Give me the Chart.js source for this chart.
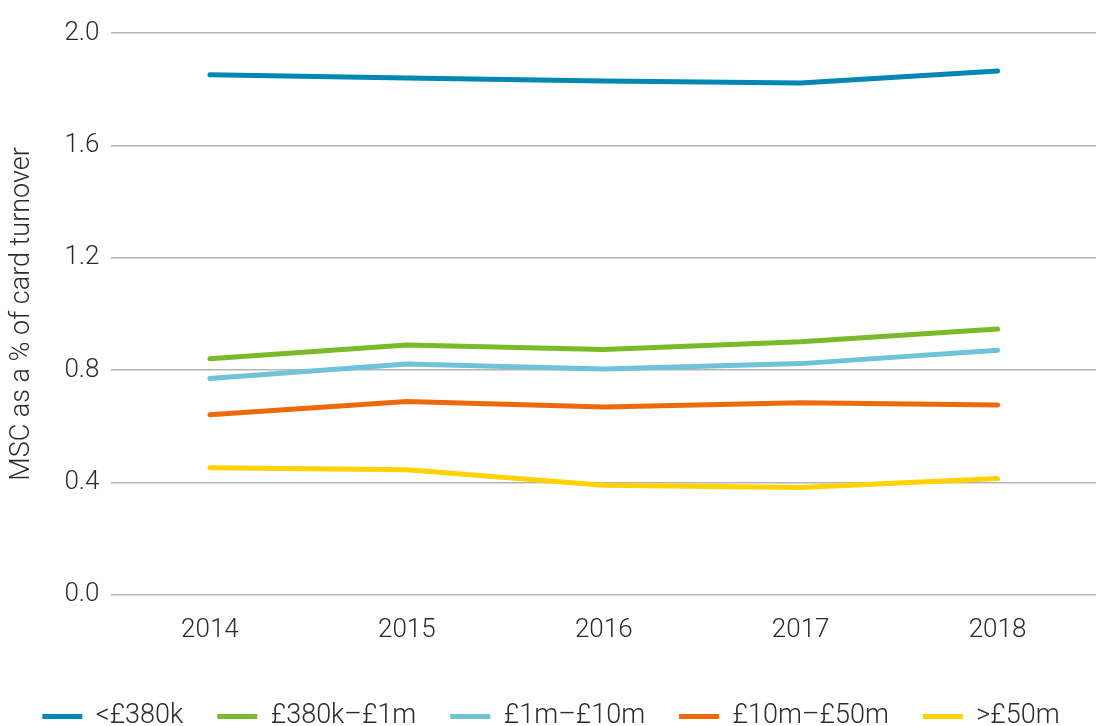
<!DOCTYPE html>
<html>
<head>
<meta charset="utf-8">
<script src="https://cdn.jsdelivr.net/npm/chart.js@4"></script>
<style>
  html, body { margin: 0; padding: 0; background: #fff; }
  #wrap { width: 1096px; height: 726px; }
</style>
</head>
<body>
<div id="wrap"><canvas id="msc" width="1096" height="726"></canvas></div>
<script>
// -----Data
var years = ['2014', '2015', '2016', '2017', '2018']
var under380k = [1.851, 1.840, 1.829, 1.822, 1.865]
var from380kTo1m = [0.840, 0.889, 0.873, 0.901, 0.946]
var from1mTo10m = [0.770, 0.822, 0.804, 0.823, 0.871]
var from10mTo50m = [0.641, 0.688, 0.669, 0.684, 0.676]
var over50m = [0.452, 0.445, 0.390, 0.382, 0.414]
var yTicks = [0.0, 0.4, 0.8, 1.2, 1.6, 2.0]

var fontFamily = 'Roboto, "Liberation Sans", sans-serif'
var textColor = '#2b2b2b'

function series(label, data, color) {
  return {
    label: label,
    data: data,
    borderColor: color,
    backgroundColor: color,
    borderWidth: 5,
    borderCapStyle: 'round',
    borderJoinStyle: 'round',
    pointRadius: 0,
    pointHoverRadius: 0,
    tension: 0,
    fill: false
  }
}

var ctx = document.getElementById('msc')
var mscChart = new Chart(ctx, {
  type: 'line',
  data: {
    labels: years,
    datasets: [
      series('<£380k', under380k, '#0087b4'),
      series('£380k–£1m', from380kTo1m, '#7ab929'),
      series('£1m–£10m', from1mTo10m, '#6ec3d8'),
      series('£10m–£50m', from10mTo50m, '#ec6a0c'),
      series('>£50m', over50m, '#ffd200')
    ]
  },
  options: {
    responsive: false,
    animation: false,
    layout: { padding: { top: 33, right: 0, left: 6, bottom: -14 } },
    plugins: {
      tooltip: { enabled: false },
      legend: {
        position: 'bottom',
        labels: {
          usePointStyle: true,
          pointStyle: 'line',
          pointStyleWidth: 40,
          boxHeight: 24,
          padding: 34,
          color: textColor,
          font: { family: fontFamily, size: 27, weight: 300 }
        }
      }
    },
    scales: {
      x: {
        offset: true,
        grid: { display: false },
        border: { display: false },
        // extra room between the year labels and the legend
        afterFit: function(axis) { axis.height += 11 },
        ticks: {
          color: textColor,
          padding: 12,
          font: { family: fontFamily, size: 26, weight: 300 }
        }
      },
      y: {
        min: 0,
        max: 2,
        afterBuildTicks: function(axis) {
          axis.ticks = yTicks.map(function(v) { return { value: v } })
        },
        grid: { color: '#b4b4b4', lineWidth: 1.5, drawTicks: false },
        border: { display: false },
        ticks: {
          color: textColor,
          padding: 12,
          font: { family: fontFamily, size: 26, weight: 300 },
          callback: function(v) { return Number(v).toFixed(1) }
        },
        title: {
          display: true,
          text: 'MSC as a % of card turnover',
          color: textColor,
          padding: { top: 0, bottom: 14 },
          font: { family: fontFamily, size: 27, weight: 300 }
        }
      }
    }
  }
})
</script>
</body>
</html>
